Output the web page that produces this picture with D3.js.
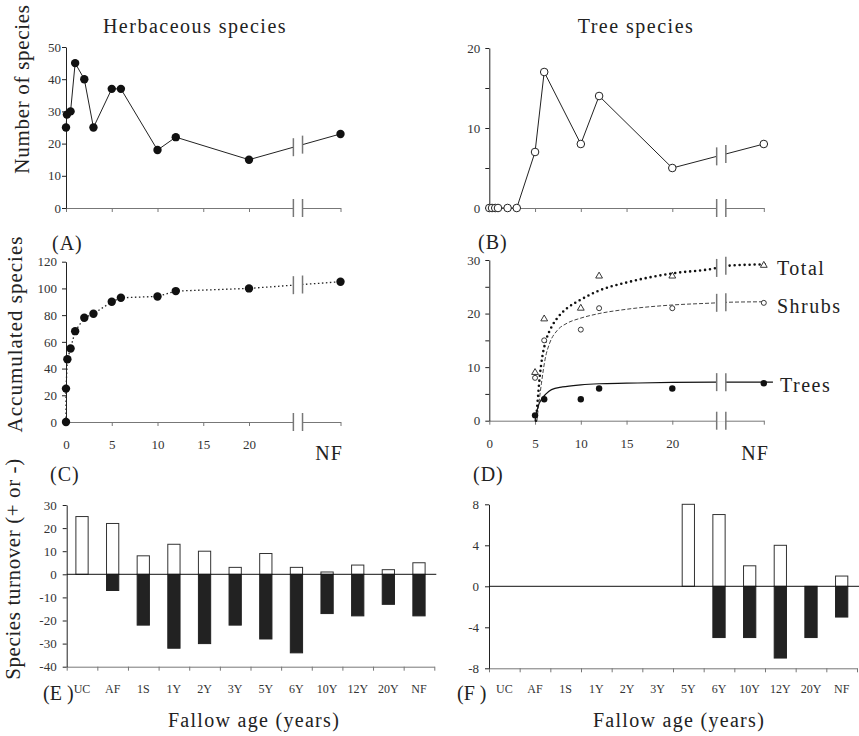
<!DOCTYPE html>
<html><head><meta charset="utf-8">
<script src="https://cdn.jsdelivr.net/npm/d3@7"></script>
<style>
body{margin:0;background:#fff}
svg text{font-family:"Liberation Serif","Tinos","Times New Roman","Nimbus Roman","DejaVu Serif",serif !important}
</style></head><body>
<script>
// ---------------- data ----------------
const herbAges    = [0, 0.1, 0.5, 1, 2, 3, 5, 6, 10, 12, 20, 30];
const herbSpecies = [25, 29, 30, 45, 40, 25, 37, 37, 18, 22, 15, 23];
const treeAges    = [0, 0.3, 0.65, 0.95, 2, 3, 5, 6, 10, 12, 20, 30];
const treeSpecies = [0, 0, 0, 0, 0, 0, 7, 17, 8, 14, 5, 8];

const accumAges  = [0, 0, 0.15, 0.5, 1, 2, 3, 5, 6, 10, 12, 20, 30];
const herbAccum  = [0, 25, 47, 55, 68, 78, 81, 90, 93, 94, 98, 100, 105];

const woodyAges  = [5, 6, 10, 12, 20, 30];
const totalAccum = [9, 19, 21, 27, 27, 29];
const shrubAccum = [8, 15, 17, 21, 21, 22];
const treeAccum  = [1, 4, 4, 6, 6, 7];

// fitted curves
const totalFitAges = [5.1, 5.3, 5.5, 5.8, 6.2, 6.8, 7.5, 8.5, 10, 12, 15, 20, 24.8, 25.8, 30.4];
const totalFit     = [0, 4, 8, 12, 15, 17.5, 19.3, 21, 22.6, 24.3, 25.8, 27.5, 28.5, 28.9, 29.2];
const shrubFitAges = [5.2, 5.4, 5.7, 6.1, 6.6, 7.4, 8.5, 9.9, 12, 15, 20, 24.8, 25.8, 30];
const shrubFit     = [0, 3, 7, 11.5, 14.5, 16.8, 18.2, 19.1, 20, 20.8, 21.6, 22, 22.1, 22.2];
const treeFitAges  = [5, 5.3, 5.7, 6.2, 6.8, 8, 10, 12, 15, 20, 24.8, 25.8, 31];
const treeFit      = [0, 2.5, 4, 5, 5.8, 6.3, 6.7, 6.9, 7, 7.15, 7.2, 7.2, 7.2];

const ageCategories = ["UC","AF","1S","1Y","2Y","3Y","5Y","6Y","10Y","12Y","20Y","NF"];
const herbGain  = [25, 22, 8, 13, 10, 3, 9, 3, 1, 4, 2, 5];
const herbLoss  = [0, -7, -22, -32, -30, -22, -28, -34, -17, -18, -13, -18];
const treeGain  = [0, 0, 0, 0, 0, 0, 8, 7, 2, 4, 0, 1];
const treeLoss  = [0, 0, 0, 0, 0, 0, 0, -5, -5, -7, -5, -3];

const herbYTicks  = [0, 10, 20, 30, 40, 50];
const treeYTicks  = [0, 5, 10, 15, 20];
const treeYLabels = [0, 10, 20];
const accYTicks   = [0, 20, 40, 60, 80, 100, 120];
const woodyYTicks = [0, 5, 10, 15, 20, 25, 30];
const woodyYLabels= [0, 10, 20, 30];
const ageXTicks   = [0, 5, 10, 15, 20, 30];
const ageXLabels  = [0, 5, 10, 15, 20];
const turnYTicks  = [30, 20, 10, 0, -10, -20, -30, -40];
const treeTurnYTicks = [8, 4, 0, -4, -8];
const breakAt = [24.85, 25.85];

// ---------------- drawing ----------------
const FONT = '"Liberation Serif", "Tinos", "Times New Roman", "Nimbus Roman", "DejaVu Serif", serif';
const svg = d3.select("body").append("svg").attr("width", 859).attr("height", 736);

function txt(x, y, s, size, o = {}) {
  const t = svg.append("text").attr("x", x).attr("y", y).text(s)
    .style("font-size", size + "px")
    .attr("fill", o.fill || "#222")
    .attr("text-anchor", o.anchor || "start")
    .style("letter-spacing", (o.ls || 0) + "px");
  if (o.rotate) t.attr("transform", `rotate(${o.rotate},${x},${y})`);
  return t;
}

function styleAxis(g, color) {
  g.attr("font-size", null).attr("font-family", null);
  g.selectAll(".tick text").style("font-size", "13px").attr("fill", "#333");
  g.select(".domain").attr("stroke", color);
  g.selectAll(".tick line").attr("stroke", color);
}

function interp(xs, ys, v) {
  for (let i = 0; i < xs.length - 1; i++) {
    if (v >= xs[i] && v <= xs[i + 1]) {
      const t = (v - xs[i]) / (xs[i + 1] - xs[i]);
      return ys[i] + t * (ys[i + 1] - ys[i]);
    }
  }
  return ys[ys.length - 1];
}

function linePanel(cfg) {
  const x = d3.scaleLinear().domain([0, 30]).range([cfg.x0, cfg.x1]);
  const y = d3.scaleLinear().domain(cfg.yDomain).range([cfg.yBottom, cfg.yTop]);
  const gx = svg.append("g").attr("transform", `translate(0,${cfg.yBottom})`)
    .call(d3.axisBottom(x).tickValues(ageXTicks).tickSize(4).tickSizeOuter(0).tickPadding(14)
      .tickFormat(d => cfg.xLabels.includes(d) ? String(d) : ""));
  styleAxis(gx, "#777");
  const gy = svg.append("g").attr("transform", `translate(${cfg.x0},0)`)
    .call(d3.axisLeft(y).tickValues(cfg.yTicks).tickSize(4).tickSizeOuter(0).tickPadding(cfg.pad)
      .tickFormat(d => cfg.yLabels.includes(d) ? String(d) : ""));
  styleAxis(gy, "#222");
  return { x, y, cfg };
}

function drawBreak(p, levels) {
  const xa = p.x(breakAt[0]), xb = p.x(breakAt[1]);
  svg.append("rect").attr("x", xa).attr("y", p.cfg.yTop - 6).attr("width", xb - xa)
    .attr("height", p.cfg.yBottom - p.cfg.yTop + 7).attr("fill", "#fff");
  levels.forEach(lv => {
    [[xa, lv[0]], [xb, lv[1]]].forEach(([xx, v]) => {
      svg.append("line").attr("x1", xx).attr("x2", xx)
        .attr("y1", p.y(v) - 9).attr("y2", p.y(v) + 9)
        .attr("stroke", "#777").attr("stroke-width", 1.5);
    });
  });
}

function drawLine(p, xs, ys, style) {
  const line = d3.line().x((d, i) => p.x(xs[i])).y(d => p.y(d)).curve(style.curve || d3.curveLinear);
  svg.append("path").datum(ys).attr("d", line).attr("fill", "none")
    .attr("stroke", style.color || "#222").attr("stroke-width", style.width || 1)
    .attr("stroke-dasharray", style.dash || null)
    .attr("stroke-linecap", style.cap || "butt");
}

// ---- Panel A: herbaceous species richness ----
const pA = linePanel({ x0: 66, x1: 340.5, yBottom: 208, yTop: 47, yDomain: [0, 50],
  yTicks: herbYTicks, yLabels: herbYTicks, xLabels: [], pad: 1 });
drawLine(pA, herbAges, herbSpecies, { width: 1 });
drawBreak(pA, [[interp(herbAges, herbSpecies, breakAt[0]), interp(herbAges, herbSpecies, breakAt[1])], [0, 0]]);
svg.append("g").selectAll("circle").data(herbSpecies).join("circle")
  .attr("cx", (d, i) => pA.x(herbAges[i])).attr("cy", d => pA.y(d)).attr("r", 4.2).attr("fill", "#111");

// ---- Panel B: tree species richness ----
const pB = linePanel({ x0: 489.3, x1: 763.8, yBottom: 208, yTop: 48, yDomain: [0, 20],
  yTicks: treeYTicks, yLabels: treeYLabels, xLabels: [], pad: 5 });
drawLine(pB, treeAges, treeSpecies, { width: 1 });
drawBreak(pB, [[interp(treeAges, treeSpecies, breakAt[0]), interp(treeAges, treeSpecies, breakAt[1])], [0, 0]]);
svg.append("g").selectAll("circle").data(treeSpecies).join("circle")
  .attr("cx", (d, i) => pB.x(treeAges[i])).attr("cy", d => pB.y(d)).attr("r", 3.8)
  .attr("fill", "#fff").attr("stroke", "#222").attr("stroke-width", 1);

// ---- Panel C: accumulated herbaceous species ----
const pC = linePanel({ x0: 66, x1: 340.5, yBottom: 422, yTop: 261.7, yDomain: [0, 120],
  yTicks: accYTicks, yLabels: accYTicks, xLabels: ageXLabels, pad: 5 });
drawLine(pC, accumAges, herbAccum, { width: 1.3, dash: "1.5 2.5" });
drawBreak(pC, [[interp(accumAges, herbAccum, breakAt[0]), interp(accumAges, herbAccum, breakAt[1])], [0, 0]]);
svg.append("g").selectAll("circle").data(herbAccum).join("circle")
  .attr("cx", (d, i) => pC.x(accumAges[i])).attr("cy", d => pC.y(d)).attr("r", 4.2).attr("fill", "#111");

// ---- Panel D: accumulated woody species ----
const pD = linePanel({ x0: 489.3, x1: 763.8, yBottom: 420.7, yTop: 260, yDomain: [0, 30],
  yTicks: woodyYTicks, yLabels: woodyYLabels, xLabels: ageXLabels, pad: 5 });
drawLine(pD, totalFitAges, totalFit, { width: 2.6, dash: "0 5", cap: "round", curve: d3.curveMonotoneX, color: "#111" });
drawLine(pD, shrubFitAges, shrubFit, { width: 1, dash: "4 2", curve: d3.curveMonotoneX, color: "#444" });
drawLine(pD, treeFitAges, treeFit, { width: 1.2, curve: d3.curveMonotoneX, color: "#111" });
drawBreak(pD, [
  [interp(totalFitAges, totalFit, breakAt[0]), interp(totalFitAges, totalFit, breakAt[1])],
  [interp(shrubFitAges, shrubFit, breakAt[0]), interp(shrubFitAges, shrubFit, breakAt[1])],
  [interp(treeFitAges, treeFit, breakAt[0]), interp(treeFitAges, treeFit, breakAt[1])],
  [0, 0]]);
svg.append("g").selectAll("path").data(totalAccum).join("path")
  .attr("d", d3.symbol(d3.symbolTriangle, 20))
  .attr("transform", (d, i) => `translate(${pD.x(woodyAges[i])},${pD.y(d)})`)
  .attr("fill", "#fff").attr("stroke", "#222").attr("stroke-width", 0.9);
svg.append("g").selectAll("circle").data(shrubAccum).join("circle")
  .attr("cx", (d, i) => pD.x(woodyAges[i])).attr("cy", d => pD.y(d)).attr("r", 2.5)
  .attr("fill", "#fff").attr("stroke", "#222").attr("stroke-width", 0.9);
svg.append("g").selectAll("circle").data(treeAccum).join("circle")
  .attr("cx", (d, i) => pD.x(woodyAges[i])).attr("cy", d => pD.y(d)).attr("r", 3.2).attr("fill", "#111");

// ---- bar panels ----
function barPanel(cfg, gain, loss) {
  const x = d3.scaleBand().domain(ageCategories).range([cfg.x0, cfg.x1]).paddingInner(0.6).paddingOuter(0.3);
  const edges = d3.scaleLinear().domain([0, ageCategories.length]).range([cfg.x0, cfg.x1]);
  const y = d3.scaleLinear().domain(cfg.yDomain).range([cfg.yBottom, cfg.yTop]);
  const gx = svg.append("g").attr("transform", `translate(0,${cfg.yBottom})`)
    .call(d3.axisBottom(edges).tickValues(d3.range(ageCategories.length + 1)).tickSize(4).tickSizeOuter(0).tickFormat(""));
  styleAxis(gx, "#777");
  const gy = svg.append("g").attr("transform", `translate(${cfg.x0},0)`)
    .call(d3.axisLeft(y).tickValues(cfg.yTicks).tickSize(4).tickSizeOuter(0).tickPadding(cfg.pad).tickFormat(d => String(d)));
  styleAxis(gy, "#222");
  svg.append("g").selectAll("rect").data(loss).join("rect")
    .attr("x", (d, i) => x(ageCategories[i])).attr("width", x.bandwidth())
    .attr("y", y(0)).attr("height", d => y(d) - y(0))
    .attr("fill", "#222").attr("stroke", d => d < 0 ? "#222" : "none");
  svg.append("g").selectAll("rect").data(gain).join("rect")
    .attr("x", (d, i) => x(ageCategories[i])).attr("width", x.bandwidth())
    .attr("y", d => y(d)).attr("height", d => y(0) - y(d))
    .attr("fill", "#fff").attr("stroke", d => d > 0 ? "#333" : "none").attr("stroke-width", 1);
  svg.append("line").attr("x1", cfg.x0).attr("x2", cfg.x1 + 2).attr("y1", y(0)).attr("y2", y(0))
    .attr("stroke", "#111").attr("stroke-width", 1);
  ageCategories.forEach(c => txt(x(c) + x.bandwidth() / 2, 693, c, 12, { anchor: "middle", fill: "#333" }));
}
barPanel({ x0: 66.7, x1: 434.3, yBottom: 666.7, yTop: 505, yDomain: [-40, 30], yTicks: turnYTicks, pad: 6 }, herbGain, herbLoss);
barPanel({ x0: 489, x1: 857, yBottom: 668.3, yTop: 504.3, yDomain: [-8, 8], yTicks: treeTurnYTicks, pad: 6 }, treeGain, treeLoss);

// ---- texts ----
txt(195, 33, "Herbaceous species", 20, { anchor: "middle", ls: 1.5 });
txt(636, 33, "Tree species", 20, { anchor: "middle", ls: 1.5 });
txt(29, 89, "Number of species", 21, { anchor: "middle", ls: 0.7, rotate: -90 });
txt(22, 334, "Accumulated species", 21, { anchor: "middle", ls: 1, rotate: -90 });
txt(20, 569, "Species turnover (+ or -)", 21, { anchor: "middle", ls: 0.6, rotate: -90 });
txt(254, 727, "Fallow age (years)", 20, { anchor: "middle", ls: 1.3 });
txt(679, 727, "Fallow age (years)", 20, { anchor: "middle", ls: 1.3 });
txt(52, 250, "(A)", 20, { ls: 1 });
txt(478, 249, "(B)", 20, { ls: 1 });
txt(50, 481, "(C)", 20, { ls: 1 });
txt(473, 481, "(D)", 20, { ls: 1 });
txt(43, 700, "(E )", 20, {});
txt(457, 700, "(F )", 20, {});
txt(329, 460, "NF", 20, { anchor: "middle", ls: 1 });
txt(755, 460, "NF", 20, { anchor: "middle", ls: 1 });
txt(777, 275, "Total", 20, { ls: 1.5 });
txt(777, 313, "Shrubs", 20, { ls: 1.5 });
txt(780, 392, "Trees", 20, { ls: 1.5 });
</script>
</body></html>
